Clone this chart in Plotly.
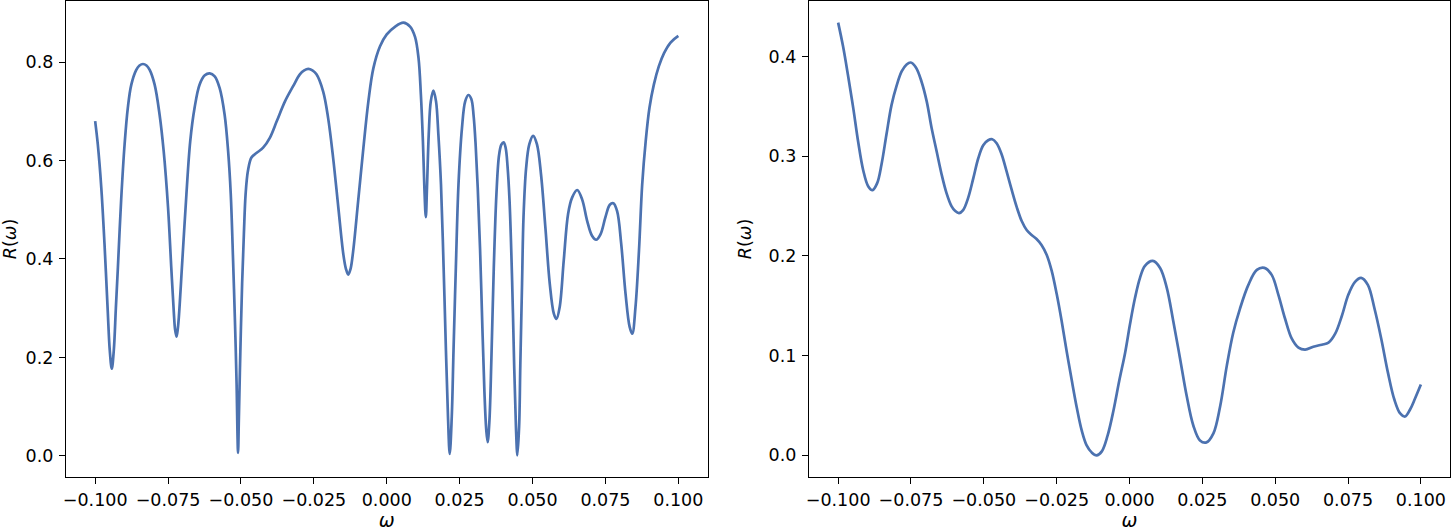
import plotly.graph_objects as go
from plotly.subplots import make_subplots

# ---- data ----
omega_left = [
    -0.1000, -0.0991, -0.0979, -0.0968, -0.0957, -0.0950, -0.0943, -0.0936, -0.0929, -0.0922,
    -0.0911, -0.0899, -0.0888, -0.0876, -0.0859, -0.0848, -0.0836, -0.0824, -0.0813, -0.0796,
    -0.0779, -0.0765, -0.0750, -0.0739, -0.0730, -0.0726, -0.0721, -0.0717, -0.0713, -0.0701,
    -0.0687, -0.0674, -0.0659, -0.0642, -0.0624, -0.0607, -0.0590, -0.0573, -0.0556, -0.0544,
    -0.0535, -0.0527, -0.0521, -0.0515, -0.0512, -0.0510, -0.0507, -0.0502, -0.0496, -0.0490,
    -0.0484, -0.0476, -0.0464, -0.0447, -0.0424, -0.0401, -0.0377, -0.0349, -0.0321, -0.0298,
    -0.0283, -0.0269, -0.0255, -0.0241, -0.0218, -0.0201, -0.0184, -0.0166, -0.0149, -0.0140,
    -0.0132, -0.0124, -0.0115, -0.0098, -0.0080, -0.0063, -0.0046, -0.0023, 0.0000, 0.0029,
    0.0057, 0.0080, 0.0097, 0.0109, 0.0117, 0.0124, 0.0129, 0.0134, 0.0138, 0.0144,
    0.0151, 0.0160, 0.0169, 0.0177, 0.0186, 0.0195, 0.0203, 0.0210, 0.0216, 0.0223,
    0.0229, 0.0237, 0.0246, 0.0258, 0.0269, 0.0280, 0.0290, 0.0298, 0.0305, 0.0312,
    0.0320, 0.0328, 0.0335, 0.0341, 0.0346, 0.0352, 0.0359, 0.0367, 0.0376, 0.0385,
    0.0393, 0.0401, 0.0408, 0.0414, 0.0421, 0.0430, 0.0437, 0.0443, 0.0448, 0.0454,
    0.0458, 0.0464, 0.0469, 0.0478, 0.0489, 0.0502, 0.0515, 0.0529, 0.0544, 0.0559,
    0.0573, 0.0582, 0.0593, 0.0607, 0.0622, 0.0636, 0.0653, 0.0670, 0.0687, 0.0704,
    0.0718, 0.0733, 0.0750, 0.0765, 0.0777, 0.0790, 0.0804, 0.0819, 0.0833, 0.0842,
    0.0853, 0.0865, 0.0876, 0.0888, 0.0901, 0.0916, 0.0933, 0.0951, 0.0974, 0.1000,
]
R_left = [
    0.680, 0.633, 0.545, 0.431, 0.296, 0.215, 0.177, 0.215, 0.300, 0.383,
    0.518, 0.633, 0.707, 0.754, 0.784, 0.793, 0.796, 0.793, 0.784, 0.754,
    0.693, 0.619, 0.504, 0.383, 0.289, 0.257, 0.242, 0.256, 0.282, 0.397,
    0.532, 0.639, 0.707, 0.754, 0.773, 0.777, 0.771, 0.747, 0.693, 0.619,
    0.532, 0.397, 0.282, 0.148, 0.046, 0.006, 0.080, 0.214, 0.350, 0.450,
    0.532, 0.579, 0.606, 0.615, 0.626, 0.646, 0.680, 0.720, 0.751, 0.775,
    0.783, 0.786, 0.783, 0.775, 0.740, 0.686, 0.606, 0.504, 0.410, 0.380,
    0.368, 0.380, 0.417, 0.518, 0.626, 0.720, 0.787, 0.832, 0.856, 0.872,
    0.880, 0.872, 0.851, 0.808, 0.734, 0.639, 0.545, 0.485, 0.545, 0.653,
    0.720, 0.742, 0.720, 0.653, 0.551, 0.383, 0.214, 0.080, 0.004, 0.080,
    0.214, 0.383, 0.551, 0.666, 0.720, 0.733, 0.725, 0.690, 0.630, 0.545,
    0.420, 0.260, 0.130, 0.055, 0.028, 0.070, 0.200, 0.380, 0.530, 0.610,
    0.632, 0.637, 0.625, 0.590, 0.520, 0.355, 0.183, 0.060, 0.001, 0.060,
    0.183, 0.350, 0.485, 0.585, 0.633, 0.650, 0.633, 0.572, 0.464, 0.350,
    0.289, 0.278, 0.302, 0.397, 0.492, 0.525, 0.540, 0.521, 0.478, 0.447,
    0.439, 0.450, 0.485, 0.510, 0.513, 0.497, 0.431, 0.329, 0.262, 0.248,
    0.302, 0.417, 0.551, 0.639, 0.707, 0.754, 0.791, 0.818, 0.840, 0.853,
]

omega_right = [
    -0.1000, -0.0983, -0.0966, -0.0948, -0.0931, -0.0914, -0.0897, -0.0882, -0.0866, -0.0851,
    -0.0834, -0.0817, -0.0799, -0.0782, -0.0765, -0.0751, -0.0733, -0.0714, -0.0696, -0.0679,
    -0.0662, -0.0645, -0.0628, -0.0611, -0.0598, -0.0585, -0.0571, -0.0554, -0.0536, -0.0519,
    -0.0502, -0.0485, -0.0471, -0.0456, -0.0439, -0.0422, -0.0405, -0.0387, -0.0370, -0.0353,
    -0.0336, -0.0319, -0.0302, -0.0284, -0.0267, -0.0250, -0.0233, -0.0216, -0.0198, -0.0181,
    -0.0164, -0.0147, -0.0130, -0.0113, -0.0095, -0.0075, -0.0055, -0.0035, -0.0015, 0.0002,
    0.0019, 0.0036, 0.0053, 0.0080, 0.0105, 0.0128, 0.0150, 0.0173, 0.0196, 0.0219,
    0.0242, 0.0264, 0.0288, 0.0311, 0.0334, 0.0356, 0.0379, 0.0408, 0.0437, 0.0463,
    0.0488, 0.0511, 0.0534, 0.0557, 0.0580, 0.0603, 0.0631, 0.0660, 0.0683, 0.0706,
    0.0729, 0.0751, 0.0774, 0.0795, 0.0818, 0.0841, 0.0864, 0.0887, 0.0909, 0.0929,
    0.0946, 0.0963, 0.0980, 0.1000,
]
R_right = [
    0.434, 0.410, 0.381, 0.348, 0.314, 0.286, 0.270, 0.266, 0.273, 0.292,
    0.322, 0.351, 0.371, 0.385, 0.392, 0.394, 0.389, 0.375, 0.355, 0.328,
    0.305, 0.282, 0.263, 0.250, 0.245, 0.243, 0.246, 0.258, 0.278, 0.298,
    0.311, 0.316, 0.317, 0.313, 0.302, 0.285, 0.267, 0.249, 0.235, 0.226,
    0.221, 0.217, 0.211, 0.201, 0.185, 0.162, 0.135, 0.105, 0.075, 0.048,
    0.025, 0.010, 0.003, 0.000, 0.004, 0.020, 0.045, 0.075, 0.103, 0.132,
    0.158, 0.178, 0.190, 0.195, 0.188, 0.168, 0.135, 0.098, 0.060, 0.030,
    0.015, 0.013, 0.022, 0.049, 0.090, 0.123, 0.147, 0.171, 0.186, 0.188,
    0.181, 0.161, 0.137, 0.117, 0.108, 0.106, 0.109, 0.111, 0.113, 0.122,
    0.140, 0.161, 0.174, 0.178, 0.171, 0.147, 0.117, 0.083, 0.056, 0.042,
    0.039, 0.046, 0.057, 0.071,
]

x_tick_vals = [-0.1, -0.075, -0.05, -0.025, 0.0, 0.025, 0.05, 0.075, 0.1]
x_tick_text = ["\u22120.100", "\u22120.075", "\u22120.050", "\u22120.025", "0.000",
               "0.025", "0.050", "0.075", "0.100"]
y_left_tick_vals = [0.0, 0.2, 0.4, 0.6, 0.8]
y_left_tick_text = ["0.0", "0.2", "0.4", "0.6", "0.8"]
y_right_tick_vals = [0.0, 0.1, 0.2, 0.3, 0.4]
y_right_tick_text = ["0.0", "0.1", "0.2", "0.3", "0.4"]

x_title = "<i>ω</i>"
y_title = "<i>R</i>(<i>ω</i>)"

# ---- figure ----
W, H = 1451, 531
LINE_COLOR = "#4c72b0"
FONT = dict(family="DejaVu Sans", size=17.5, color="black")
XTITLE_FONT = dict(family="DejaVu Sans", size=19, color="black")

fig = make_subplots(rows=1, cols=2)
line_style = dict(color=LINE_COLOR, width=2.7, shape="spline", smoothing=1.0)
fig.add_trace(go.Scatter(x=omega_left, y=R_left, mode="lines", line=line_style,
                         showlegend=False), row=1, col=1)
fig.add_trace(go.Scatter(x=omega_right, y=R_right, mode="lines", line=line_style,
                         showlegend=False), row=1, col=2)

axis_common = dict(showline=True, linecolor="black", linewidth=1.3, mirror=True,
                   ticks="outside", ticklen=6, tickwidth=1.3, tickcolor="black",
                   showgrid=False, zeroline=False, automargin=False,
                   tickfont=FONT)

def span(vals, frac=0.05):
    lo, hi = min(vals), max(vals)
    d = (hi - lo) * frac
    return [lo - d, hi + d]

fig.update_xaxes(**axis_common, tickvals=x_tick_vals, ticktext=x_tick_text,
                 ticklabelstandoff=1)
fig.update_xaxes(domain=[66 / W, 707.5 / W], range=span(omega_left),
                 title=dict(text=x_title, font=XTITLE_FONT, standoff=4), row=1, col=1)
fig.update_xaxes(domain=[809 / W, 1450 / W], range=span(omega_right),
                 title=dict(text=x_title, font=XTITLE_FONT, standoff=4), row=1, col=2)
fig.update_yaxes(**axis_common, ticklabelstandoff=2)
fig.update_yaxes(range=span(R_left), tickvals=y_left_tick_vals, ticktext=y_left_tick_text,
                 title=dict(text=y_title, font=FONT, standoff=12), row=1, col=1)
fig.update_yaxes(range=span(R_right), tickvals=y_right_tick_vals, ticktext=y_right_tick_text,
                 title=dict(text=y_title, font=FONT, standoff=12), row=1, col=2)

fig.update_layout(width=W, height=H, template="none",
                  paper_bgcolor="white", plot_bgcolor="white",
                  margin=dict(l=0, r=0, t=1, b=54, pad=0),
                  font=FONT, showlegend=False)

fig.write_html("out.html", config={"displayModeBar": False})

# remove the browser's default page margin so the figure sits at the top-left corner
with open("out.html", "r", encoding="utf-8") as f:
    html = f.read()
html = html.replace("<head>", "<head><style>html,body{margin:0;padding:0;overflow:hidden;}</style>", 1)
with open("out.html", "w", encoding="utf-8") as f:
    f.write(html)
